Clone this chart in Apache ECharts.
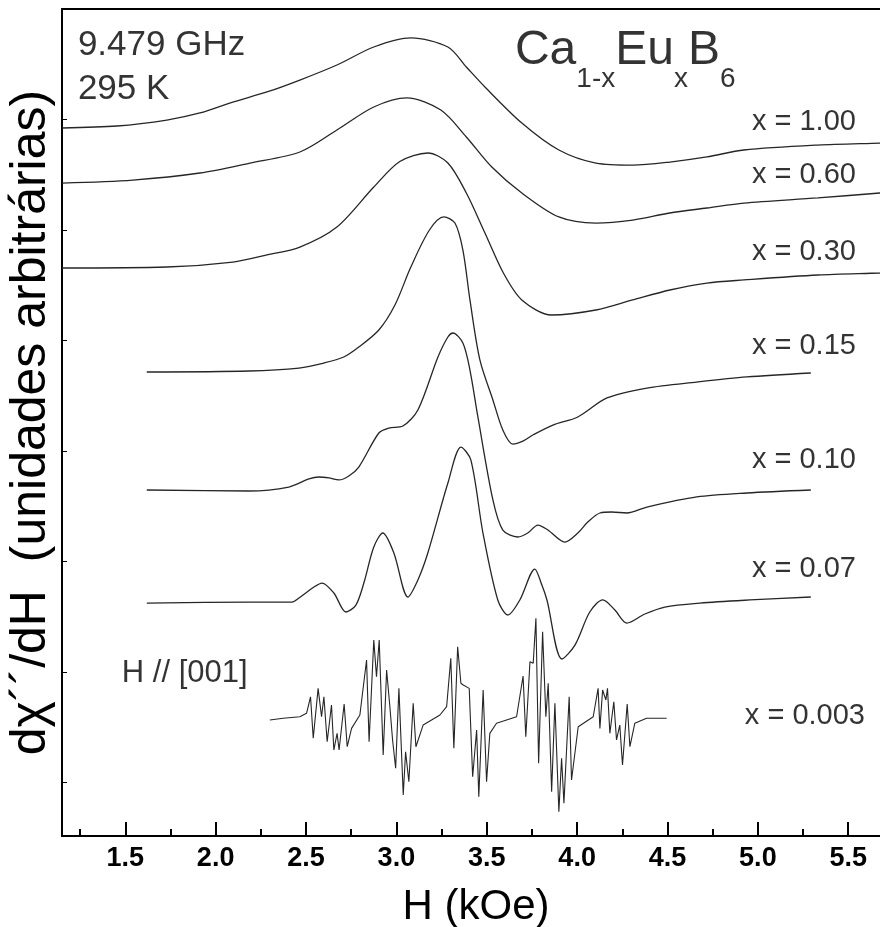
<!DOCTYPE html>
<html><head><meta charset="utf-8">
<script src="https://cdn.jsdelivr.net/npm/echarts@6/dist/echarts.min.js"></script>
<style>html,body{margin:0;padding:0;background:#fff}#c{width:880px;height:927px}</style>
</head><body><div id="c"></div>
<script>
// ---- axis ticks ----
const xTicks = [1.5, 2.0, 2.5, 3.0, 3.5, 4.0, 4.5, 5.0, 5.5];
const xMinorTicks = [1.25, 1.75, 2.25, 2.75, 3.25, 3.75, 4.25, 4.75, 5.25];
const yTicks = [0, 1, 2, 3, 4, 5, 6, 7];

// ---- spectra: [H (kOe), dX''/dH (arb. units, offset)] ----
const s100 = [[1.151,5.923],[1.454,5.941],[1.730,5.995],[1.913,6.059],[2.095,6.158],[2.284,6.249],[2.466,6.357],[2.671,6.493],[2.875,6.656],[3.080,6.738],[3.285,6.656],[3.387,6.475],[3.490,6.294],[3.694,5.968],[3.899,5.724],[4.104,5.606],[4.308,5.588],[4.513,5.615],[4.718,5.661],[4.923,5.724],[5.332,5.769],[5.675,5.787],[5.731,5.790]];
const s060 = [[1.151,5.425],[1.542,5.452],[1.913,5.516],[2.190,5.606],[2.466,5.706],[2.671,5.905],[2.875,6.113],[3.058,6.195],[3.246,6.086],[3.387,5.842],[3.528,5.570],[3.694,5.335],[3.899,5.118],[4.104,5.063],[4.308,5.090],[4.513,5.154],[4.718,5.199],[4.923,5.244],[5.332,5.290],[5.675,5.335],[5.731,5.340]];
const s030 = [[1.151,4.656],[1.730,4.665],[2.095,4.710],[2.284,4.774],[2.466,4.846],[2.671,5.027],[2.875,5.389],[3.019,5.620],[3.174,5.697],[3.285,5.606],[3.387,5.335],[3.490,4.973],[3.592,4.611],[3.694,4.367],[3.858,4.231],[4.104,4.276],[4.308,4.367],[4.513,4.457],[4.718,4.520],[4.923,4.548],[5.332,4.593],[5.675,4.611],[5.731,4.615]];
const s015 = [[1.619,3.715],[2.184,3.724],[2.461,3.751],[2.599,3.796],[2.709,3.851],[2.792,3.941],[2.903,4.095],[2.992,4.321],[3.080,4.665],[3.183,5.000],[3.263,5.118],[3.324,5.063],[3.368,4.819],[3.407,4.367],[3.462,3.824],[3.534,3.462],[3.589,3.190],[3.644,3.063],[3.700,3.090],[3.755,3.145],[3.866,3.235],[4.004,3.308],[4.165,3.480],[4.386,3.570],[4.662,3.624],[4.939,3.670],[5.293,3.706]];
const s010 = [[1.619,2.647],[2.184,2.638],[2.405,2.674],[2.516,2.747],[2.571,2.765],[2.627,2.756],[2.682,2.738],[2.737,2.774],[2.792,2.855],[2.903,3.163],[2.958,3.208],[3.036,3.226],[3.119,3.371],[3.230,3.851],[3.285,4.032],[3.313,4.068],[3.368,3.977],[3.407,3.733],[3.451,3.308],[3.534,2.557],[3.589,2.285],[3.672,2.222],[3.727,2.258],[3.783,2.330],[3.838,2.285],[3.932,2.176],[4.004,2.258],[4.059,2.357],[4.126,2.439],[4.192,2.448],[4.275,2.439],[4.386,2.493],[4.662,2.584],[4.939,2.620],[5.293,2.647]];
const s007 = [[1.619,1.624],[2.184,1.633],[2.422,1.633],[2.461,1.670],[2.544,1.769],[2.588,1.805],[2.654,1.715],[2.721,1.543],[2.776,1.606],[2.820,1.805],[2.875,2.131],[2.925,2.258],[2.986,2.077],[3.064,1.679],[3.119,1.833],[3.174,2.077],[3.285,2.710],[3.357,3.036],[3.412,2.919],[3.479,2.258],[3.561,1.652],[3.617,1.516],[3.683,1.652],[3.766,1.932],[3.805,1.787],[3.833,1.652],[3.916,1.118],[3.988,1.244],[4.070,1.543],[4.142,1.652],[4.209,1.561],[4.275,1.443],[4.375,1.525],[4.485,1.588],[4.680,1.624],[4.956,1.652],[5.293,1.679]];
const s0003 = [[2.300,0.566],[2.374,0.581],[2.466,0.595],[2.503,0.626],[2.525,0.776],[2.540,0.400],[2.567,0.852],[2.586,0.595],[2.599,0.776],[2.617,0.369],[2.641,0.701],[2.654,0.294],[2.672,0.445],[2.683,0.294],[2.711,0.710],[2.728,0.324],[2.752,0.490],[2.798,0.611],[2.835,1.109],[2.849,0.369],[2.875,1.290],[2.890,0.957],[2.905,1.290],[2.927,0.249],[2.946,1.018],[2.964,0.686],[2.979,0.385],[2.996,0.129],[3.014,0.852],[3.038,-0.113],[3.051,0.279],[3.069,0.007],[3.093,0.717],[3.108,0.324],[3.148,0.520],[3.241,0.611],[3.278,0.686],[3.301,1.124],[3.318,0.310],[3.339,1.229],[3.357,0.898],[3.370,0.882],[3.403,0.852],[3.422,0.052],[3.444,0.475],[3.456,-0.129],[3.480,0.837],[3.499,0.007],[3.517,0.445],[3.554,0.536],[3.665,0.595],[3.701,0.964],[3.716,0.414],[3.739,1.093],[3.757,1.079],[3.772,1.486],[3.787,0.174],[3.809,1.365],[3.827,0.595],[3.840,0.898],[3.859,-0.083],[3.877,0.717],[3.899,-0.264],[3.914,0.219],[3.927,-0.188],[3.956,0.776],[3.969,0.023],[4.006,0.505],[4.089,0.595],[4.116,0.852],[4.126,0.490],[4.141,0.837],[4.159,0.747],[4.168,0.852],[4.181,0.445],[4.203,0.731],[4.218,0.385],[4.236,0.520],[4.251,0.158],[4.277,0.710],[4.292,0.324],[4.319,0.536],[4.384,0.581],[4.495,0.581]];

// ---- annotations ----
const curveNames = ['x = 1.00', 'x = 0.60', 'x = 0.30', 'x = 0.15', 'x = 0.10', 'x = 0.07', 'x = 0.003'];
const curveLabelX = [4.967, 4.967, 4.967, 4.967, 4.967, 4.967, 4.928];
const curveLabelY = [5.977, 5.498, 4.801, 3.950, 2.919, 1.932, 0.602];
const infoTexts = ['9.479 GHz', '295 K', 'H // [001]'];
const infoX = [1.238, 1.238, 1.481];
const infoY = [6.674, 6.276, 0.991];
const formulaX = 3.656, formulaY = 6.54;

const F = "'Liberation Sans', Arial, sans-serif";
const curves = [s100, s060, s030, s015, s010, s007, s0003];
const xMin = 1.15, xMax = 5.731;

const series = curves.map((d, i) => ({
  type: 'line', name: curveNames[i], data: d, showSymbol: false, symbol: 'none',
  smooth: i < 6 ? 0.3 : false,
  lineStyle: { color: '#262626', width: i < 6 ? 1.3 : 1.1 },
  silent: true, z: 3
}));

series.push({
  type: 'scatter', symbolSize: 0, silent: true, z: 5,
  data: curveNames.map((t, i) => ({ value: [curveLabelX[i], curveLabelY[i]], label: { formatter: t } })),
  label: { show: true, position: 'right', distance: 0, fontSize: 29, color: '#000', fontFamily: F }
});
series.push({
  type: 'scatter', symbolSize: 0, silent: true, z: 5,
  data: infoTexts.map((t, i) => ({ value: [infoX[i], infoY[i]], label: { formatter: t, fontSize: i < 2 ? 35 : 31 } })),
  label: { show: true, position: 'right', distance: 0, color: '#000', fontFamily: F }
});
series.push({
  type: 'scatter', symbolSize: 0, silent: true, z: 5,
  data: [{ value: [formulaX, formulaY] }],
  label: {
    show: true, position: 'right', distance: 0,
    formatter: '{b|Ca}{s|1-x}{b|Eu}{s|x}{b|B}{s|6}',
    rich: {
      b: { fontSize: 48, fontFamily: F, color: '#000', padding: [0, 0, 18, 0], verticalAlign: 'bottom' },
      s: { fontSize: 28, fontFamily: F, color: '#000', verticalAlign: 'bottom' }
    }
  }
});

const chart = echarts.init(document.getElementById('c'));
chart.setOption({
  animation: false,
  backgroundColor: '#fff',
  grid: { left: 62, right: -10, top: 9, bottom: 91, containLabel: false, outerBoundsMode: 'none' },
  xAxis: [
    {
      type: 'value', min: xMin, max: xMax, position: 'bottom',
      axisLine: { onZero: false, lineStyle: { color: '#000', width: 2 } },
      axisTick: { inside: true, length: 14, customValues: xTicks, lineStyle: { color: '#000', width: 2 } },
      axisLabel: { customValues: xTicks, formatter: v => v.toFixed(1), fontSize: 27, fontWeight: 'bold', color: '#000', margin: 9, fontFamily: F },
      splitLine: { show: false },
      name: 'H (kOe)', nameLocation: 'middle', nameGap: 50,
      nameTextStyle: { fontSize: 42, color: '#000', fontFamily: F }
    },
    {
      type: 'value', min: xMin, max: xMax, position: 'bottom',
      axisLine: { show: false, onZero: false },
      axisTick: { inside: true, length: 7, customValues: xMinorTicks, lineStyle: { color: '#000', width: 2 } },
      axisLabel: { show: false }, splitLine: { show: false }
    },
    {
      type: 'value', min: xMin, max: xMax, position: 'top',
      axisLine: { onZero: false, lineStyle: { color: '#000', width: 2 } },
      axisTick: { show: false }, axisLabel: { show: false }, splitLine: { show: false }
    }
  ],
  yAxis: [{
    type: 'value', min: -0.484, max: 7.0,
    axisLine: { onZero: false, lineStyle: { color: '#000', width: 2 } },
    axisTick: { inside: true, length: 5, customValues: yTicks, lineStyle: { color: '#000', width: 1 } },
    axisLabel: { show: false }, splitLine: { show: false },
    name: 'd\u03C7\u00B4\u00B4/dH  (unidades arbitr\u00E1rias)', nameLocation: 'middle', nameGap: 6,
    nameTextStyle: { fontSize: 50, color: '#000', fontFamily: F }
  }],
  series: series
});
</script>
</body></html>
